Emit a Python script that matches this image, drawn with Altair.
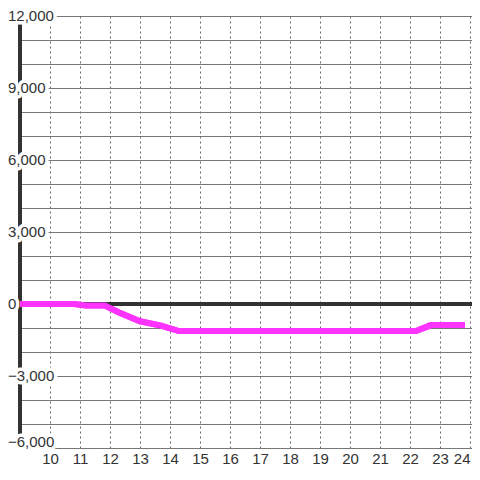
import altair as alt
import pandas as pd

# Series (hour of day vs value)
hours = [9.0, 10.8, 11.2, 11.83, 12.3, 13.0, 13.7, 14.3, 22.2, 22.7, 23.83]
values = [0, 0, -60, -60, -350, -720, -900, -1130, -1130, -880, -880]

x_ticks = list(range(10, 25))
y_grid = list(range(-6000, 12001, 1000))
y_labels = [-6000, -3000, 0, 3000, 6000, 9000, 12000]

X_MIN, X_MAX = 9.0, 24.067
Y_MIN, Y_MAX = -6000, 12000
FONT = "Liberation Sans"

line_df = pd.DataFrame({"hour": hours, "value": values})
lab_df = pd.DataFrame({"v": y_labels})

xs = alt.Scale(domain=[X_MIN, X_MAX], nice=False, zero=False)
ys = alt.Scale(domain=[Y_MIN, Y_MAX], nice=False)

xa = alt.Axis(values=x_ticks, grid=True, gridDash=[2, 3], gridColor="#666",
              gridWidth=1, gridOpacity=1, ticks=False, domain=False,
              labelPadding=15, labelBaseline="alphabetic", labelFontSize=15,
              labelFont=FONT, labelColor="#333", format="d", labelFlush=4,
              labelOverlap=False, title=None)
ya = alt.Axis(values=y_grid, grid=True, gridColor="#777", gridWidth=1,
              gridOpacity=1, labels=False, ticks=False, domain=False, title=None)

line_mark = dict(color="#ff33ff", strokeWidth=6, strokeCap="butt", strokeJoin="miter")

def line_layer():
    return alt.Chart(line_df).mark_line(**line_mark).encode(
        x=alt.X("hour:Q", scale=xs, axis=xa),
        y=alt.Y("value:Q", scale=ys, axis=ya),
    )

zero_rule = alt.Chart(line_df).mark_rule(color="#333", strokeWidth=3).encode(
    y=alt.YDatum(0, scale=ys, axis=ya)
)
y_domain = alt.Chart(line_df).mark_rule(color="#333", strokeWidth=3).encode(
    x=alt.XDatum(X_MIN, scale=xs, axis=xa)
)

def label_layer(filt, dy, bg):
    props = dict(align="left", baseline="middle", dx=-12, dy=dy, font=FONT, fontSize=15)
    if bg:
        props.update(stroke="white", strokeWidth=7, strokeJoin="round", color="white")
    else:
        props.update(color="#333")
    return alt.Chart(lab_df).transform_filter(filt).mark_text(**props).encode(
        x=alt.XDatum(X_MIN, scale=xs, axis=xa),
        y=alt.Y("v:Q", scale=ys, axis=ya),
        text=alt.Text("v:Q", format=","),
    )

mid = "datum.v > -6000"
low = "datum.v <= -6000"

chart = alt.layer(
    line_layer(), zero_rule, y_domain, line_layer(),
    label_layer(mid, 0, True), label_layer(low, -6, True),
    label_layer(mid, 0, False), label_layer(low, -6, False),
).properties(
    width=452, height=432,
    autosize=alt.AutoSizeParams(type="none"),
    padding={"left": 12, "top": 8, "right": 0, "bottom": 19},
    background="white",
).configure_view(strokeWidth=0)

chart.save("out.html", embed_options={"renderer": "svg", "actions": False})
